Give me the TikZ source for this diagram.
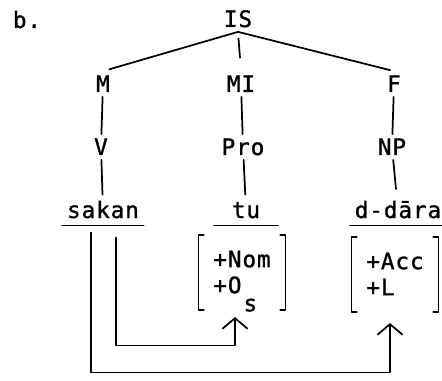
\documentclass[tikz,border=0pt]{standalone}
\usepackage{fontspec}
\setmainfont{DejaVu Sans Mono}[LetterSpace=4,FakeBold=1.2]
\usetikzlibrary{calc,arrows.meta}
\begin{document}
\begin{tikzpicture}[x=.75pt,y=-.75pt,font=\fontsize{17}{19.5}\selectfont,line join=round,line cap=round,line width=1.3pt,
	>={Straight Barb[width=19pt,length=8pt]},
	lab/.style={inner sep=3pt,text height=12pt,text depth=0pt,anchor=base},
	word/.style={lab,inner ysep=5pt},
	feat/.style={minimum width=64pt,minimum height=55pt,inner sep=0pt}]
	\useasboundingbox (0,0) rectangle (442,381);
	\node[lab] (b) at (27,28) {b.};
	\node[lab] (IS) at (238,27) {IS};
	\node[lab] (M) at (103,92) {M};
	\node[lab] (MI) at (241,92) {MI};
	\node[lab] (F) at (394,92) {F};
	\node[lab] (V) at (101,155) {V};
	\node[lab] (Pro) at (243,155) {Pro};
	\node[lab] (NP) at (392,155) {NP};
	\node[word,minimum width=58pt] (sakan) at (103,218) {sakan};
	\node[word,minimum width=47pt] (tu) at (246,218) {tu};
	\node[word,minimum width=68pt] (ddara) at (398,218) {d-dāra};
	\node[feat] (nom) at (242,275) {\begin{tabular}{@{}l@{}}+Nom\\+O\kern1.5pt\raisebox{-.8em}[0pt][0pt]{s}\end{tabular}};
	\node[feat] (acc) at (395,277) {\begin{tabular}{@{}l@{}}+Acc\\+L\end{tabular}};
	\coordinate (nomtip) at ($(nom.south)+(-7,4.5)$);
	\coordinate (acctip) at ($(acc.south)+(-5,8.5)$);
	\draw[shorten >=5pt] (IS.south) -- (M.north);
	\draw[shorten >=3pt] (IS.south) -- (F.north);
	\draw[shorten <=5pt,shorten >=10pt] (IS.south) -- (MI.north);
	\draw (M) -- (V) (MI) -- (Pro) (F) -- (NP);
	\draw[shorten >=4pt] (V) -- (sakan) (Pro) -- (tu) (NP) -- (ddara);
	\foreach \w in {sakan,tu,ddara}\draw (\w.south west) -- (\w.south east);
	\foreach \f in {nom,acc}{
		\draw ([xshift=4pt,yshift=2pt]\f.north west) -- ([yshift=2pt]\f.north west) -- ([yshift=2pt]\f.south west) -- ++(4pt,0);
		\draw ([xshift=-4pt,yshift=2pt]\f.north east) -- ([yshift=2pt]\f.north east) -- ([yshift=2pt]\f.south east) -- ++(-4pt,0);
	}
	\draw[->] ($(sakan.south)+(13,12)$) -- ++(0,108) -| (nomtip);
	\draw[->] ($(sakan.south)+(-12,7)$) -- ++(0,140) -| (acctip);
\end{tikzpicture}
\end{document}
